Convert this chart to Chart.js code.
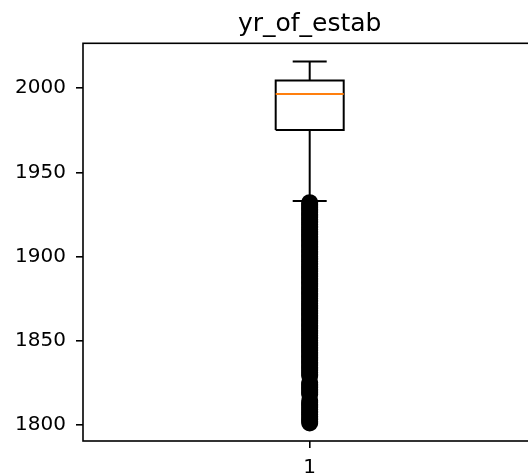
<!DOCTYPE html>
<html>
<head>
<meta charset="utf-8">
<script src="https://cdn.jsdelivr.net/npm/chart.js@4/dist/chart.umd.min.js"></script>
<style>
  html, body { margin: 0; padding: 0; background: #fff; overflow: hidden; }
  #wrap { width: 528px; height: 476px; overflow: hidden; }
</style>
</head>
<body>
<div id="wrap"><canvas id="boxCanvas" width="560" height="476"></canvas></div>
<script>
// data
const categories = ['1'];
const positions = [1];
const q1 = [1975.2];
const median = [1996.6];
const q3 = [2004.6];
const whiskerLo = [1933];
const whiskerHi = [2016];
const outliers = [
    1932, 1931, 1930, 1929, 1928, 1927, 1926, 1925, 1924, 1923, 1922, 1921,
    1920, 1919, 1918, 1917, 1916, 1915, 1914, 1913, 1912, 1911, 1910, 1909,
    1908, 1907, 1906, 1905, 1904, 1903, 1902, 1901, 1900, 1899, 1898, 1897,
    1896, 1895, 1894, 1893, 1892, 1891, 1890, 1889, 1888, 1887, 1886, 1885,
    1884, 1883, 1882, 1881, 1880, 1879, 1878, 1877, 1876, 1875, 1874, 1873,
    1872, 1871, 1870, 1869, 1868, 1867, 1866, 1865, 1864, 1863, 1862, 1861,
    1860, 1859, 1858, 1857, 1856, 1855, 1854, 1853, 1852, 1851, 1850, 1849,
    1848, 1847, 1846, 1845, 1844, 1843, 1842, 1841, 1840, 1839, 1838, 1837,
    1836, 1835, 1834, 1833, 1832, 1831, 1830, 1829,
    1825, 1824, 1823, 1822, 1821, 1820, 1819, 1818,
    1814, 1813, 1812, 1811, 1810, 1809, 1808, 1807, 1806, 1805, 1804, 1803, 1802, 1801
];
const yTicks = [1800, 1850, 1900, 1950, 2000];
const title = 'yr_of_estab';

const boxHalf = 0.075;
const capHalf = 0.0375;
const FONT = 'DejaVu Sans';

function seg(points, color, order) {
    return {
        type: 'line',
        data: points,
        borderColor: color,
        borderWidth: 2,
        pointRadius: 0,
        fill: false,
        tension: 0,
        order: order
    };
}

var datasets = [];
positions.forEach((p, i) => {
    // whiskers
    datasets.push(seg([{x: p, y: q1[i]}, {x: p, y: whiskerLo[i]}], '#000', 5));
    datasets.push(seg([{x: p, y: q3[i]}, {x: p, y: whiskerHi[i]}], '#000', 5));
    // caps
    datasets.push(seg([{x: p - capHalf, y: whiskerLo[i]}, {x: p + capHalf, y: whiskerLo[i]}], '#000', 4));
    datasets.push(seg([{x: p - capHalf, y: whiskerHi[i]}, {x: p + capHalf, y: whiskerHi[i]}], '#000', 4));
    // box
    datasets.push(seg([
        {x: p - boxHalf, y: q1[i]}, {x: p + boxHalf, y: q1[i]},
        {x: p + boxHalf, y: q3[i]}, {x: p - boxHalf, y: q3[i]},
        {x: p - boxHalf, y: q1[i]}
    ], '#000', 3));
    // median
    datasets.push(seg([{x: p - boxHalf, y: median[i]}, {x: p + boxHalf, y: median[i]}], '#ff7f0e', 2));
    // fliers
    datasets.push({
        type: 'scatter',
        data: outliers.map(v => ({x: p, y: v})),
        pointStyle: 'circle',
        pointRadius: 7,
        pointBorderWidth: 3,
        pointBorderColor: '#000',
        pointBackgroundColor: 'rgba(0,0,0,0)',
        order: 1
    });
});

const framePlugin = {
    id: 'frame',
    afterDraw(chart) {
        const a = chart.chartArea;
        const ctx = chart.ctx;
        ctx.save();
        ctx.strokeStyle = '#000';
        ctx.lineWidth = 1.6;
        ctx.strokeRect(a.left, a.top, a.right - a.left, a.bottom - a.top);
        // title centred over the axes
        ctx.fillStyle = '#000';
        ctx.font = '25px "' + FONT + '"';
        ctx.textAlign = 'center';
        ctx.textBaseline = 'alphabetic';
        ctx.fillText(title, (a.left + a.right) / 2, a.top - 12.5);
        ctx.restore();
    }
};

new Chart(document.getElementById('boxCanvas'), {
    type: 'scatter',
    data: { datasets: datasets },
    plugins: [framePlugin],
    options: {
        responsive: false,
        animation: false,
        devicePixelRatio: 1,
        layout: { padding: { left: 0, top: 43.3, right: 23.6, bottom: 0 } },
        plugins: {
            legend: { display: false },
            tooltip: { enabled: false }
        },
        scales: {
            x: {
                type: 'linear',
                min: 0.5,
                max: 1.5,
                afterFit: s => { s.height = 35; },
                afterBuildTicks: axis => { axis.ticks = positions.map(v => ({value: v})); },
                border: { display: false },
                grid: { drawOnChartArea: false, drawTicks: true, tickLength: 7, color: '#000', lineWidth: 1.6 },
                ticks: {
                    padding: 8,
                    color: '#000',
                    font: { family: FONT, size: 20 },
                    maxRotation: 0,
                    callback: (v) => categories[positions.indexOf(v)] ?? ''
                }
            },
            y: {
                type: 'linear',
                min: 1790.25,
                max: 2026.75,
                afterFit: s => { s.width = 83; },
                afterBuildTicks: axis => { axis.ticks = yTicks.map(v => ({value: v})); },
                border: { display: false },
                grid: { drawOnChartArea: false, drawTicks: true, tickLength: 7, color: '#000', lineWidth: 1.6 },
                ticks: {
                    padding: 10,
                    color: '#000',
                    font: { family: FONT, size: 20 },
                    callback: v => String(v)
                }
            }
        }
    }
});
</script>
</body>
</html>
